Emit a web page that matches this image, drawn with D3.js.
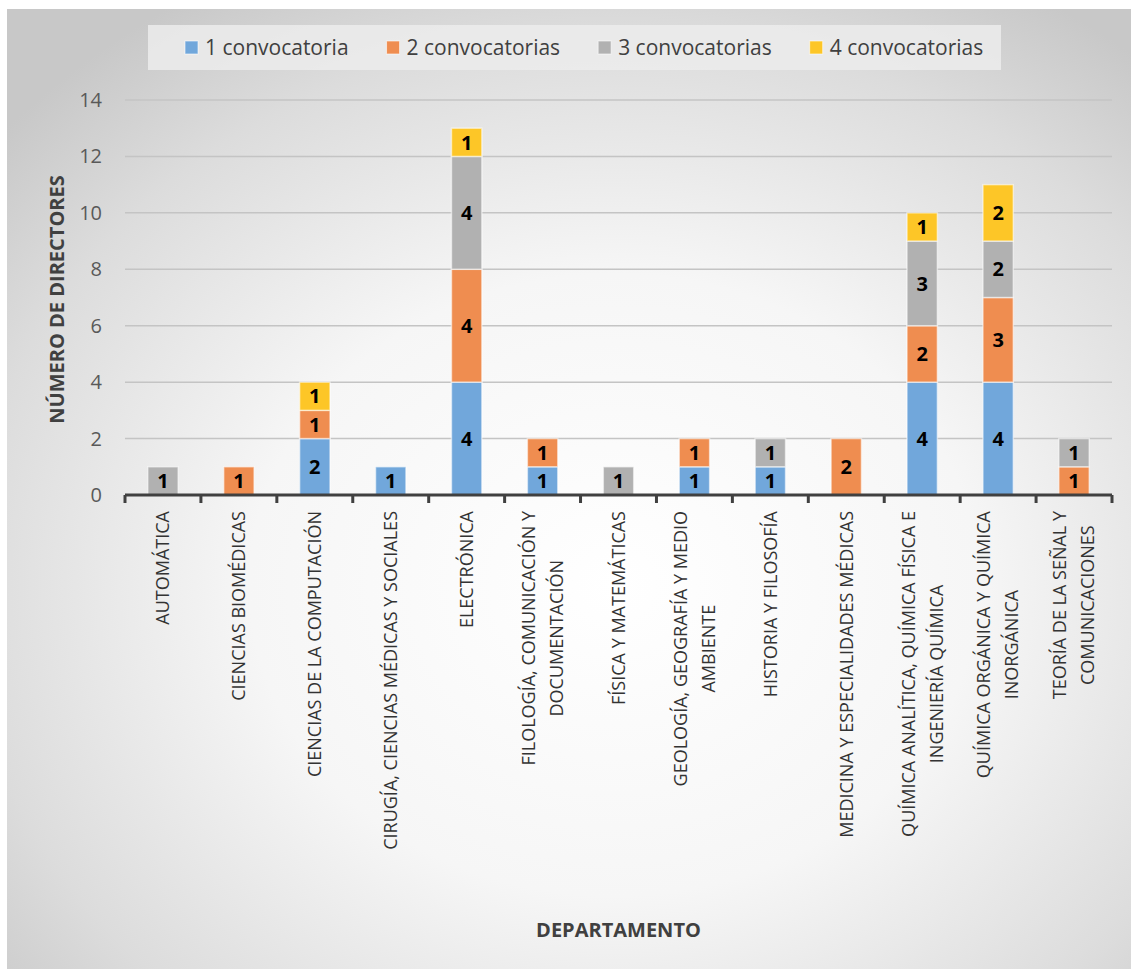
<!DOCTYPE html>
<html><head><meta charset="utf-8">
<script src="https://cdn.jsdelivr.net/npm/d3@7"></script>
<style>html,body{margin:0;padding:0;background:#fff;}svg{display:block;}</style>
</head><body>
<script>
const categories = [
  "AUTOMÁTICA",
  "CIENCIAS BIOMÉDICAS",
  "CIENCIAS DE LA COMPUTACIÓN",
  "CIRUGÍA, CIENCIAS MÉDICAS Y SOCIALES",
  "ELECTRÓNICA",
  "FILOLOGÍA, COMUNICACIÓN Y\nDOCUMENTACIÓN",
  "FÍSICA Y MATEMÁTICAS",
  "GEOLOGÍA, GEOGRAFÍA Y MEDIO\nAMBIENTE",
  "HISTORIA Y FILOSOFÍA",
  "MEDICINA Y ESPECIALIDADES MÉDICAS",
  "QUÍMICA ANALÍTICA, QUÍMICA FÍSICA E\nINGENIERÍA QUÍMICA",
  "QUÍMICA ORGÁNICA Y QUÍMICA\nINORGÁNICA",
  "TEORÍA DE LA SEÑAL Y\nCOMUNICACIONES"
];
const seriesNames = ["1 convocatoria", "2 convocatorias", "3 convocatorias", "4 convocatorias"];
const conv1 = [0, 0, 2, 1, 4, 1, 0, 1, 1, 0, 4, 4, 0];
const conv2 = [0, 1, 1, 0, 4, 1, 0, 1, 0, 2, 2, 3, 1];
const conv3 = [1, 0, 0, 0, 4, 0, 1, 0, 1, 0, 3, 2, 1];
const conv4 = [0, 0, 1, 0, 1, 0, 0, 0, 0, 0, 1, 2, 0];
const yTicks = [0, 2, 4, 6, 8, 10, 12, 14];
const colors = ["#71a7db", "#ef8d50", "#b1b1b1", "#fdc627"];

const W = 1131, H = 969;
const svg = d3.select("body").append("svg").attr("width", W).attr("height", H);
const defs = svg.append("defs");
const grad = defs.append("radialGradient").attr("id", "bg")
  .attr("cx", "0.54").attr("cy", "0.6").attr("r", "0.72");
grad.append("stop").attr("offset", "0").attr("stop-color", "#ffffff");
grad.append("stop").attr("offset", "0.45").attr("stop-color", "#f6f6f6");
grad.append("stop").attr("offset", "0.8").attr("stop-color", "#dcdcdc");
grad.append("stop").attr("offset", "1").attr("stop-color", "#c8c8c8");

svg.append("rect").attr("x", 7).attr("y", 9).attr("width", W - 7).attr("height", H - 9)
  .attr("fill", "url(#bg)");

const plot = {left: 125, right: 1112, top: 100, bottom: 495};
const x = d3.scaleBand().domain(categories).range([plot.left, plot.right]).padding(0);
const y = d3.scaleLinear().domain([0, 14]).range([plot.bottom, plot.top]);
const font = "'Open Sans', sans-serif";

// gridlines
svg.append("g").selectAll("line").data(yTicks.filter(d => d > 0)).join("line")
  .attr("x1", plot.left).attr("x2", plot.right)
  .attr("y1", d => y(d)).attr("y2", d => y(d))
  .attr("stroke", "#c4c4c4").attr("stroke-width", 1.5);

// y tick labels
svg.append("g").selectAll("text").data(yTicks).join("text")
  .attr("x", 102).attr("y", d => y(d)).attr("dy", "0.35em")
  .attr("text-anchor", "end").attr("font-family", font).attr("font-size", 20)
  .attr("fill", "#595959").text(d => d);

// stacked data
const table = categories.map((c, i) => ({cat: c, s0: conv1[i], s1: conv2[i], s2: conv3[i], s3: conv4[i]}));
const stack = d3.stack().keys(["s0", "s1", "s2", "s3"])(table);
const barW = x.bandwidth() * 0.4;

const layers = svg.append("g").selectAll("g").data(stack).join("g")
  .attr("fill", (d, i) => colors[i]);
layers.selectAll("rect").data(d => d.filter(p => p[1] - p[0] > 0)).join("rect")
  .attr("x", d => x(d.data.cat) + (x.bandwidth() - barW) / 2)
  .attr("width", barW)
  .attr("y", d => y(d[1]))
  .attr("height", d => y(d[0]) - y(d[1]))
  .attr("stroke", "rgba(255,255,255,0.55)").attr("stroke-width", 1.5);
layers.selectAll("text").data(d => d.filter(p => p[1] - p[0] > 0)).join("text")
  .attr("x", d => x(d.data.cat) + x.bandwidth() / 2)
  .attr("y", d => (y(d[0]) + y(d[1])) / 2).attr("dy", "0.36em")
  .attr("text-anchor", "middle").attr("font-family", font).attr("font-weight", "bold")
  .attr("font-size", 20).attr("fill", "#000")
  .text(d => d[1] - d[0]);

// x axis line and ticks
const axisG = svg.append("g");
axisG.append("line").attr("x1", plot.left).attr("x2", plot.right)
  .attr("y1", plot.bottom).attr("y2", plot.bottom)
  .attr("stroke", "#404040").attr("stroke-width", 3);
const tickPos = categories.map(c => x(c)).concat([plot.right]);
axisG.selectAll("line.t").data(tickPos).join("line").attr("class", "t")
  .attr("x1", d => d).attr("x2", d => d)
  .attr("y1", plot.bottom).attr("y2", plot.bottom + 8)
  .attr("stroke", "#404040").attr("stroke-width", 3);

// category labels (rotated)
const labTop = 511, lineH = 28;
categories.forEach(c => {
  const lines = c.split("\n");
  const g = svg.append("g");
  const texts = lines.map(l => g.append("text").attr("font-family", font).attr("font-size", 18)
    .attr("fill", "#333333").attr("text-anchor", "middle").text(l));
  const maxLen = d3.max(texts, t => t.node().getComputedTextLength());
  const cy = labTop + maxLen / 2;
  const cx = x(c) + x.bandwidth() / 2;
  const n = lines.length;
  texts.forEach((t, k) => {
    const off = (k - (n - 1) / 2) * lineH;
    const px = cx + off;
    t.attr("transform", `translate(${px},${cy}) rotate(-90)`).attr("dy", "0.35em");
  });
});

// axis titles
svg.append("text").attr("transform", `translate(57,${(plot.top + plot.bottom) / 2 + 2}) rotate(-90)`)
  .attr("text-anchor", "middle").attr("dy", "0.35em").attr("font-family", font)
  .attr("font-weight", "bold").attr("font-size", 20).attr("fill", "#404040")
  .text("NÚMERO DE DIRECTORES");
svg.append("text").attr("x", (plot.left + plot.right) / 2).attr("y", 930).attr("dy", "0.35em")
  .attr("text-anchor", "middle").attr("font-family", font)
  .attr("font-weight", "bold").attr("font-size", 20).attr("fill", "#404040")
  .text("DEPARTAMENTO");

// legend
const leg = svg.append("g");
leg.append("rect").attr("x", 148).attr("y", 25).attr("width", 853).attr("height", 45)
  .attr("fill", "#ececec").attr("fill-opacity", 0.85);
let lx = 185;
seriesNames.forEach((s, i) => {
  leg.append("rect").attr("x", lx).attr("y", 41).attr("width", 13).attr("height", 13)
    .attr("fill", colors[i]).attr("stroke", "rgba(255,255,255,0.6)").attr("stroke-width", 1);
  const t = leg.append("text").attr("x", lx + 20).attr("y", 48).attr("dy", "0.35em")
    .attr("font-family", font).attr("font-size", 21).attr("fill", "#404040").text(s);
  lx += 20 + t.node().getComputedTextLength() + 38;
});
</script>
</body></html>
